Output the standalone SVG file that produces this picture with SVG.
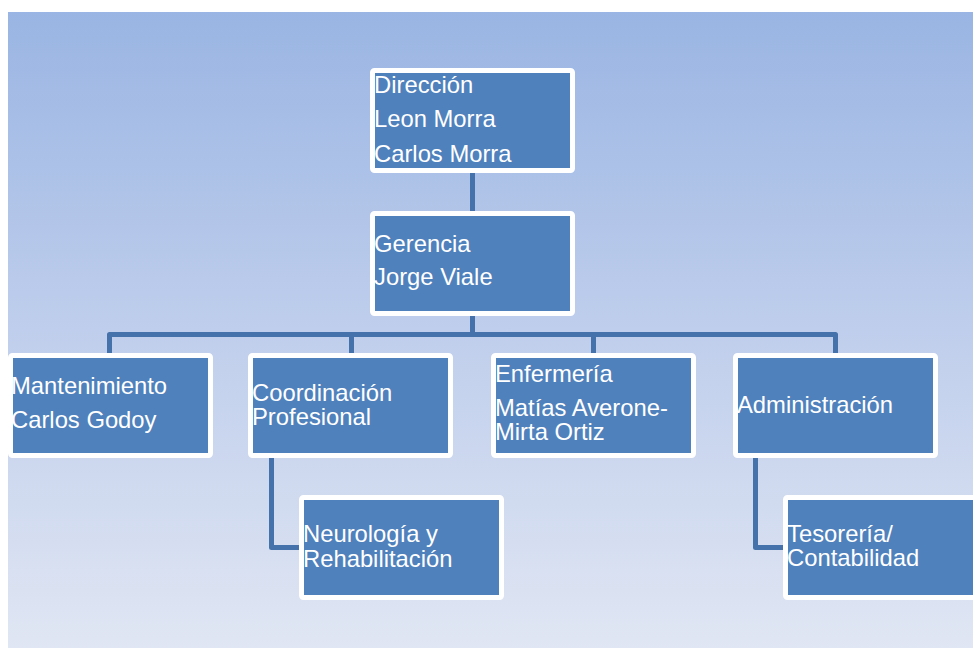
<svg xmlns="http://www.w3.org/2000/svg" width="973" height="648" viewBox="0 0 973 648">
<defs>
<linearGradient id="bg" x1="0" y1="0" x2="0" y2="1">
<stop offset="0" stop-color="#9ab5e3"/>
<stop offset="0.5" stop-color="#bfceec"/>
<stop offset="1" stop-color="#e0e6f3"/>
</linearGradient>
</defs>
<style>
.box{fill:#4f81bd;stroke:#ffffff;stroke-width:5}
.t{font-family:"Liberation Sans",Arial,sans-serif;font-size:23.8px;fill:#ffffff}
.c{fill:none;stroke:#4672ac;stroke-width:5;stroke-linejoin:round}
</style>
<rect x="8" y="12" width="965" height="636" fill="url(#bg)"/>
<g id="connectors">
<path class="c" d="M472.5 173 V211"/>
<path class="c" d="M472.5 316 V334.5"/>
<path class="c" d="M109.5 353 V334.5 H835.5 V353"/>
<path class="c" d="M351.5 334.5 V353"/>
<path class="c" d="M593.5 334.5 V353"/>
<path class="c" d="M271.5 458 V547.5 H299"/>
<path class="c" d="M755.5 458 V547.5 H783"/>
</g>
<g id="direccion">
<rect class="box" x="372.5" y="70.5" width="200" height="100" rx="2"/>
<text class="t" x="374" y="93">Dirección</text>
<text class="t" x="374" y="127">Leon Morra</text>
<text class="t" x="374" y="162">Carlos Morra</text>
</g>
<g id="gerencia">
<rect class="box" x="372.5" y="213.5" width="200" height="100" rx="2"/>
<text class="t" x="374" y="252">Gerencia</text>
<text class="t" x="374" y="285">Jorge Viale</text>
</g>
<g id="mantenimiento">
<rect class="box" x="10.5" y="355.5" width="200" height="100" rx="2"/>
<text class="t" x="11" y="394">Mantenimiento</text>
<text class="t" x="11" y="428">Carlos Godoy</text>
</g>
<g id="coordinacion">
<rect class="box" x="250.5" y="355.5" width="200" height="100" rx="2"/>
<text class="t" x="252" y="401">Coordinación</text>
<text class="t" x="252" y="425">Profesional</text>
</g>
<g id="enfermeria">
<rect class="box" x="493.5" y="355.5" width="200" height="100" rx="2"/>
<text class="t" x="495" y="382">Enfermería</text>
<text class="t" x="495" y="416">Matías Averone-</text>
<text class="t" x="495" y="440">Mirta Ortiz</text>
</g>
<g id="administracion">
<rect class="box" x="735.5" y="355.5" width="200" height="100" rx="2"/>
<text class="t" x="737" y="413">Administración</text>
</g>
<g id="neurologia">
<rect class="box" x="301.5" y="497.5" width="200" height="100" rx="2"/>
<text class="t" x="303" y="542">Neurología y</text>
<text class="t" x="303" y="567">Rehabilitación</text>
</g>
<g id="tesoreria">
<rect class="box" x="785.5" y="497.5" width="200" height="100" rx="2"/>
<text class="t" x="787" y="542">Tesorería/</text>
<text class="t" x="787" y="566">Contabilidad</text>
</g>
</svg>
